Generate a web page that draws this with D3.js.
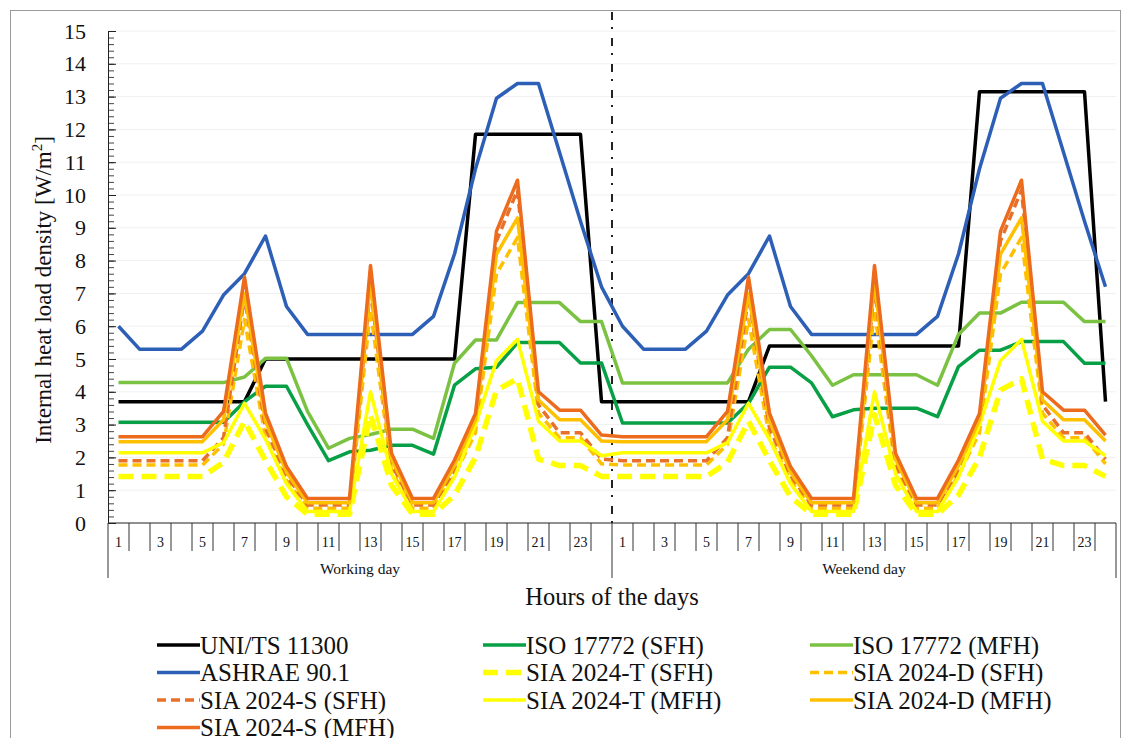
<!DOCTYPE html>
<meta charset="utf-8">
<title>Internal heat load density</title>
<style>
body { margin: 0; background: #fff; }
text { font-family: "Liberation Serif", "Times New Roman", serif; fill: #111; }
</style>
<svg width="1126" height="738"></svg>
<script src="https://cdnjs.cloudflare.com/ajax/libs/d3/7.8.5/d3.min.js"></script>
<script>

// hour labels for one day, and the two day groups
var hours = d3.range(1, 25).map(String);
var days = ["Working day", "Weekend day"];
var yTicks = d3.range(0, 16);

// series, 24 working-day values then 24 weekend-day values (W/m2)
var uniTs11300 = [3.7,3.7,3.7,3.7,3.7,3.7,3.7,5.0,5.0,5.0,5.0,5.0,5.0,5.0,5.0,5.0,5.0,11.85,11.85,11.85,11.85,11.85,11.85,3.7,
                  3.7,3.7,3.7,3.7,3.7,3.7,3.7,5.4,5.4,5.4,5.4,5.4,5.4,5.4,5.4,5.4,5.4,13.15,13.15,13.15,13.15,13.15,13.15,3.7];
var isoSfh = [3.07,3.07,3.07,3.07,3.07,3.07,3.7,4.17,4.17,3.0,1.9,2.17,2.22,2.37,2.37,2.1,4.2,4.7,4.75,5.5,5.5,5.5,4.88,4.88,
              3.05,3.05,3.05,3.05,3.05,3.05,3.65,4.75,4.75,4.27,3.24,3.45,3.5,3.5,3.5,3.24,4.77,5.27,5.27,5.53,5.53,5.53,4.87,4.87];
var isoMfh = [4.28,4.28,4.28,4.28,4.28,4.28,4.45,5.02,5.02,3.4,2.28,2.58,2.7,2.86,2.86,2.58,4.87,5.58,5.58,6.72,6.72,6.72,6.14,6.14,
              4.27,4.27,4.27,4.27,4.27,4.27,5.3,5.9,5.9,5.1,4.2,4.52,4.52,4.52,4.52,4.2,5.75,6.4,6.4,6.73,6.73,6.73,6.14,6.14];
var ashrae = [6.0,5.3,5.3,5.3,5.85,6.95,7.6,8.75,6.6,5.75,5.75,5.75,5.75,5.75,5.75,6.3,8.2,10.8,12.95,13.4,13.4,11.3,9.2,7.2,
              6.0,5.3,5.3,5.3,5.85,6.95,7.6,8.75,6.6,5.75,5.75,5.75,5.75,5.75,5.75,6.3,8.2,10.8,12.95,13.4,13.4,11.3,9.2,7.2];
var siaTSfh = [1.42,1.42,1.42,1.42,1.42,1.85,3.1,1.9,0.8,0.27,0.27,0.27,3.3,1.15,0.27,0.27,0.85,2.0,4.05,4.4,1.95,1.75,1.75,1.42,
               1.42,1.42,1.42,1.42,1.42,1.85,3.1,1.9,0.8,0.27,0.27,0.27,3.3,1.15,0.27,0.27,0.85,2.0,4.05,4.4,1.95,1.75,1.75,1.42];
var siaDSfh = [1.77,1.77,1.77,1.77,1.77,2.4,6.2,2.6,1.3,0.45,0.45,0.45,6.5,1.6,0.45,0.45,1.45,2.75,7.6,8.7,3.35,2.6,2.6,1.8,
               1.77,1.77,1.77,1.77,1.77,2.4,6.2,2.6,1.3,0.45,0.45,0.45,6.5,1.6,0.45,0.45,1.45,2.75,7.6,8.7,3.35,2.6,2.6,1.8];
var siaSSfh = [1.9,1.9,1.9,1.9,1.9,2.6,6.9,2.9,1.45,0.55,0.55,0.55,7.2,1.8,0.55,0.55,1.6,3.0,8.6,10.15,3.6,2.75,2.75,1.95,
               1.9,1.9,1.9,1.9,1.9,2.6,6.9,2.9,1.45,0.55,0.55,0.55,7.2,1.8,0.55,0.55,1.6,3.0,8.6,10.15,3.6,2.75,2.75,1.95];
var siaTMfh = [2.14,2.14,2.14,2.14,2.14,2.45,3.65,2.55,1.2,0.35,0.35,0.35,4.0,1.5,0.35,0.35,1.4,3.0,4.95,5.6,3.1,2.5,2.5,2.05,
               2.14,2.14,2.14,2.14,2.14,2.45,3.65,2.55,1.2,0.35,0.35,0.35,4.0,1.5,0.35,0.35,1.4,3.0,4.95,5.6,3.1,2.5,2.5,2.05];
var siaDMfh = [2.48,2.48,2.48,2.48,2.48,3.15,7.0,3.1,1.55,0.62,0.62,0.62,7.35,1.95,0.62,0.62,1.75,3.15,8.2,9.3,3.75,3.15,3.15,2.5,
               2.48,2.48,2.48,2.48,2.48,3.15,7.0,3.1,1.55,0.62,0.62,0.62,7.35,1.95,0.62,0.62,1.75,3.15,8.2,9.3,3.75,3.15,3.15,2.5];
var siaSMfh = [2.63,2.63,2.63,2.63,2.63,3.4,7.5,3.35,1.72,0.75,0.75,0.75,7.85,2.13,0.75,0.75,1.92,3.34,8.9,10.45,4.0,3.44,3.44,2.68,
               2.63,2.63,2.63,2.63,2.63,3.4,7.5,3.35,1.72,0.75,0.75,0.75,7.85,2.13,0.75,0.75,1.92,3.34,8.9,10.45,4.0,3.44,3.44,2.68];

var series = [
  {name: "UNI/TS 11300",      values: uniTs11300, color: "#000000", width: 3.5, dash: null},
  {name: "ISO 17772 (SFH)",   values: isoSfh,     color: "#07a046", width: 3.5, dash: null},
  {name: "ISO 17772 (MFH)",   values: isoMfh,     color: "#7cc242", width: 3.5, dash: null},
  {name: "ASHRAE 90.1",       values: ashrae,     color: "#2d5fb6", width: 3.5, dash: null},
  {name: "SIA 2024-T (SFH)",  values: siaTSfh,    color: "#ffff00", width: 5.5, dash: "15,8"},
  {name: "SIA 2024-D (SFH)",  values: siaDSfh,    color: "#ffc000", width: 3.5, dash: "9,5"},
  {name: "SIA 2024-S (SFH)",  values: siaSSfh,    color: "#e8702a", width: 3.5, dash: "9,5"},
  {name: "SIA 2024-T (MFH)",  values: siaTMfh,    color: "#ffff00", width: 3.5, dash: null},
  {name: "SIA 2024-D (MFH)",  values: siaDMfh,    color: "#ffc000", width: 3.5, dash: null},
  {name: "SIA 2024-S (MFH)",  values: siaSMfh,    color: "#ec6b1c", width: 3.5, dash: null}
];

var svg = d3.select("svg");
var plotL = 108, plotR = 1116, plotT = 31, plotB = 523;

var categories = d3.range(48);
var x = d3.scaleBand().domain(categories).range([plotL, plotR]).padding(0);
var y = d3.scaleLinear().domain([0, 15]).range([plotB, plotT]);

// outer frame
svg.append("rect").attr("x", 10.5).attr("y", 10.5).attr("width", 1110).attr("height", 740)
  .attr("fill", "none").attr("stroke", "#9a9a9a");

// faint gridlines
svg.append("g").selectAll("line").data(yTicks.slice(1)).enter().append("line")
  .attr("x1", plotL).attr("x2", plotR)
  .attr("y1", function(d) { return y(d); }).attr("y2", function(d) { return y(d); })
  .attr("stroke", "#f0f0f0").attr("stroke-width", 1);

// y axis: minor ticks every 0.2, major ticks with labels
svg.append("g").attr("transform", "translate(" + plotL + ",0)")
  .call(d3.axisLeft(y).tickValues(d3.range(0, 75).map(function(i) { return i * 0.2; }))
    .tickSize(-6).tickFormat(""))
  .call(function(g) { g.select(".domain").remove(); g.selectAll("line").attr("stroke", "#444"); });

svg.append("g").attr("transform", "translate(" + plotL + ",0)")
  .call(d3.axisLeft(y).tickValues(yTicks).tickSize(-8).tickPadding(22).tickSizeOuter(0))
  .call(function(g) {
    g.select(".domain").attr("stroke", "#222");
    g.selectAll("line").attr("stroke", "#222");
    g.selectAll("text").attr("font-size", 22).attr("fill", "#111");
  });

// x axis line, category ticks and labels
svg.append("line").attr("x1", plotL).attr("x2", plotR).attr("y1", plotB).attr("y2", plotB)
  .attr("stroke", "#222").attr("stroke-width", 1.2);

svg.append("g").selectAll("line").data(d3.range(49)).enter().append("line")
  .attr("x1", function(i) { return plotL + i * x.step(); })
  .attr("x2", function(i) { return plotL + i * x.step(); })
  .attr("y1", plotB)
  .attr("y2", function(i) { return i % 24 === 0 ? 578 : 551; })
  .attr("stroke", "#333").attr("stroke-width", 1);

svg.append("g").attr("transform", "translate(0," + plotB + ")")
  .call(d3.axisBottom(x).tickSize(0).tickPadding(14)
    .tickFormat(function(i) { var h = hours[i % 24]; return (i % 2 === 0) ? h : ""; }))
  .call(function(g) {
    g.select(".domain").remove();
    g.selectAll("text").attr("font-size", 14).attr("fill", "#111");
  });

svg.append("g").selectAll("text").data(days).enter().append("text")
  .attr("x", function(d, i) { return plotL + (i * 24 + 12) * x.step(); })
  .attr("y", 574).attr("text-anchor", "middle").attr("font-size", 15.5)
  .text(function(d) { return d; });

// dash-dot separator between the two days
svg.append("line").attr("x1", plotL + 24 * x.step()).attr("x2", plotL + 24 * x.step())
  .attr("y1", 12).attr("y2", plotB)
  .attr("stroke", "#222").attr("stroke-width", 2).attr("stroke-dasharray", "8,7,2,9");

// axis titles
svg.append("text").attr("x", (plotL + plotR) / 2).attr("y", 605).attr("text-anchor", "middle")
  .attr("font-size", 24.5).text("Hours of the days");

var yt = svg.append("text").attr("transform", "translate(51,290) rotate(-90)")
  .attr("text-anchor", "middle").attr("font-size", 23);
yt.append("tspan").text("Internal heat load density [W/m");
yt.append("tspan").attr("font-size", 15).attr("dy", -9).text("2");
yt.append("tspan").attr("dy", 9).text("]");

// series lines
var line = d3.line()
  .x(function(d, i) { return x(i) + x.bandwidth() / 2; })
  .y(function(d) { return y(d); });

svg.append("g").selectAll("path").data(series).enter().append("path")
  .attr("d", function(s) { return line(s.values); })
  .attr("fill", "none")
  .attr("stroke", function(s) { return s.color; })
  .attr("stroke-width", function(s) { return s.width; })
  .attr("stroke-dasharray", function(s) { return s.dash; })
  .attr("stroke-linejoin", "round");

// legend, three columns
var legendX = [157, 483, 810];
var legend = svg.append("g").selectAll("g").data(series).enter().append("g")
  .attr("transform", function(s, i) {
    return "translate(" + legendX[i % 3] + "," + (645 + Math.floor(i / 3) * 27.5) + ")";
  });
legend.append("line").attr("x1", 0).attr("x2", 43).attr("y1", 0).attr("y2", 0)
  .attr("stroke", function(s) { return s.color; })
  .attr("stroke-width", function(s) { return s.width; })
  .attr("stroke-dasharray", function(s) { return s.dash; });
legend.append("text").attr("x", 43).attr("y", 8.5).attr("font-size", 25)
  .text(function(s) { return s.name; });

</script>
